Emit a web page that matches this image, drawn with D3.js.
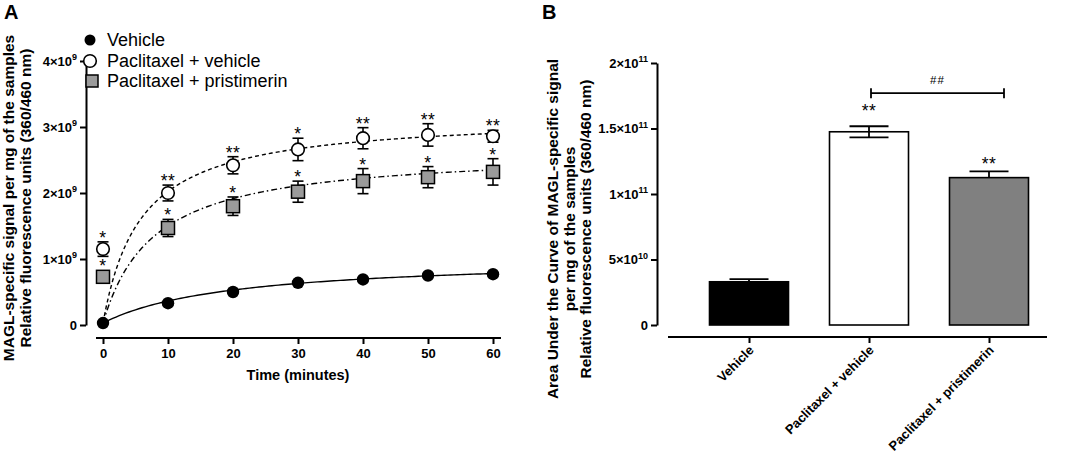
<!DOCTYPE html>
<html>
<head>
<meta charset="utf-8">
<script src="https://cdn.jsdelivr.net/npm/d3@7"></script>
<style>
  body { margin: 0; background: #fff; }
  svg text { font-family: "Liberation Sans", Arial, sans-serif; }
</style>
</head>
<body>
<div id="chart"></div>
<script>
// ---- Data ----

// Panel A: time course (values in units of 10^9)
var times = [0, 10, 20, 30, 40, 50, 60];
var vehicleMean = [0.03, 0.33, 0.50, 0.64, 0.69, 0.75, 0.77];
var vehicleSem = [0.01, 0.02, 0.02, 0.02, 0.02, 0.02, 0.02];
var ptxVehMean = [1.15, 2.00, 2.42, 2.66, 2.83, 2.88, 2.86];
var ptxVehSem = [0.11, 0.12, 0.13, 0.17, 0.16, 0.17, 0.09];
var ptxPriMean = [0.73, 1.47, 1.80, 2.02, 2.18, 2.24, 2.32];
var ptxPriSem = [0.05, 0.13, 0.14, 0.16, 0.19, 0.16, 0.20];
var ptxVehStars = ["*", "**", "**", "*", "**", "**", "**"];
var ptxPriStars = ["*", "*", "*", "*", "*", "*", "*"];

// hyperbolic fit lines (y0 + Bmax * t / (K + t)), one per group
var fitNames = ["vehicle", "ptxVeh", "ptxPri"];
var fitY0 = [0.03, 0.03, 0.03];
var fitBmax = [1.00, 3.15, 2.62];
var fitK = [20, 5.8, 7.8];

var seriesNames = ["Vehicle", "Paclitaxel + vehicle", "Paclitaxel + pristimerin"];
var xTicksA = [0, 10, 20, 30, 40, 50, 60];
var yTicksA = [0, 1, 2, 3, 4];
var yTickLabelsA = ["0", "1\u00d710^9", "2\u00d710^9", "3\u00d710^9", "4\u00d710^9"];

// Panel B: area under the curve (values in units of 10^11)
var groups = ["Vehicle", "Paclitaxel + vehicle", "Paclitaxel + pristimerin"];
var aucMean = [0.33, 1.475, 1.125];
var aucSem = [0.02, 0.042, 0.048];
var aucStars = ["", "**", "**"];
var aucStarLevel = [0, 1.66, 1.25];
var yTicksB = [0, 0.5, 1, 1.5, 2];
var yTickLabelsB = ["0", "5\u00d710^10", "1\u00d710^11", "1.5\u00d710^11", "2\u00d710^11"];
var compareLevel = 1.77; // ## bracket between bars 2 and 3

// ---- Chart setup ----
var width = 1072;
var height = 454;

var svg = d3.select("#chart")
  .append("svg")
  .attr("width", width)
  .attr("height", height);

var fillPri = "#9b9b9b";
var fillPriBar = "#808080";
var titleSize = 15.5;
var tickSize = 13;

// puts "a×10^b" into a text node with a superscript
function sciLabel(sel, label, supSize) {
  var parts = label.split("^");
  sel.text(null);
  sel.append("tspan").text(parts[0]);
  if (parts.length > 1) {
    sel.append("tspan")
      .attr("dy", -5.5)
      .attr("font-size", supSize)
      .text(parts[1]);
  }
}

// ================= Panel A =================
var xA = d3.scaleLinear().domain([0, 60]).range([103, 493]);
var yA = d3.scaleLinear().domain([0, 4]).range([325, 61]);

svg.append("text")
  .attr("x", 4).attr("y", 19)
  .attr("font-size", 20).attr("font-weight", "bold")
  .text("A");

// y axis
var yAxisA = svg.append("g")
  .attr("transform", "translate(86,0)")
  .call(d3.axisLeft(yA).tickValues(yTicksA).tickSize(6).tickSizeOuter(0).tickPadding(3));
yAxisA.select(".domain").attr("stroke-width", 2);
yAxisA.selectAll(".tick line").attr("stroke-width", 2);
yAxisA.selectAll(".tick text")
  .attr("font-size", tickSize).attr("font-weight", "bold")
  .each(function(d, i) { sciLabel(d3.select(this), yTickLabelsA[i], 9); });

// x axis (offset below the plot)
var xAxisA = svg.append("g")
  .attr("transform", "translate(0,338)")
  .call(d3.axisBottom(xA).tickValues(xTicksA).tickSize(6).tickSizeOuter(0).tickPadding(5));
xAxisA.select(".domain").attr("d", "M96,0H501").attr("stroke-width", 2);
xAxisA.selectAll(".tick line").attr("stroke-width", 2);
xAxisA.selectAll(".tick text").attr("font-size", tickSize).attr("font-weight", "bold");

svg.append("text")
  .attr("x", 298).attr("y", 380)
  .attr("text-anchor", "middle")
  .attr("font-size", 14.5).attr("font-weight", "bold")
  .text("Time (minutes)");

// y title
var yTitleA = svg.append("g").attr("transform", "translate(0,198)");
yTitleA.append("text")
  .attr("transform", "translate(14,0)rotate(-90)")
  .attr("text-anchor", "middle")
  .attr("font-size", titleSize).attr("font-weight", "bold")
  .text("MAGL-specific signal per mg of the samples");
yTitleA.append("text")
  .attr("transform", "translate(31,0)rotate(-90)")
  .attr("text-anchor", "middle")
  .attr("font-size", titleSize).attr("font-weight", "bold")
  .text("Relative fluorescence units (360/460 nm)");

// fit curves
var fitDash = [null, "4,3", "6,3,1.5,3"];
var tSamples = d3.range(0, 60.01, 0.5);
var fitLine = d3.line()
  .x(function(d) { return xA(d[0]); })
  .y(function(d) { return yA(d[1]); });

fitNames.forEach(function(name, i) {
  var pts = tSamples.map(function(t) {
    return [t, fitY0[i] + fitBmax[i] * t / (fitK[i] + t)];
  });
  svg.append("path")
    .datum(pts)
    .attr("class", "fit " + name)
    .attr("d", fitLine)
    .attr("fill", "none")
    .attr("stroke", "#000")
    .attr("stroke-width", 1.4)
    .attr("stroke-dasharray", fitDash[i]);
});

// error bars
function drawErrors(means, sems) {
  var g = svg.append("g");
  times.forEach(function(t, i) {
    var x = xA(t), top = yA(means[i] + sems[i]), bot = yA(means[i] - sems[i]);
    g.append("line").attr("x1", x).attr("x2", x).attr("y1", top).attr("y2", bot);
    g.append("line").attr("x1", x - 5.5).attr("x2", x + 5.5).attr("y1", top).attr("y2", top);
    g.append("line").attr("x1", x - 5.5).attr("x2", x + 5.5).attr("y1", bot).attr("y2", bot);
  });
  g.selectAll("line").attr("stroke", "#000").attr("stroke-width", 1.6);
}
drawErrors(vehicleMean, vehicleSem);
drawErrors(ptxVehMean, ptxVehSem);
drawErrors(ptxPriMean, ptxPriSem);

// markers
svg.append("g").selectAll("circle")
  .data(times)
  .enter()
  .append("circle")
  .attr("cx", function(d) { return xA(d); })
  .attr("cy", function(d, i) { return yA(vehicleMean[i]); })
  .attr("r", 6.2)
  .attr("fill", "#000");

svg.append("g").selectAll("circle")
  .data(times)
  .enter()
  .append("circle")
  .attr("cx", function(d) { return xA(d); })
  .attr("cy", function(d, i) { return yA(ptxVehMean[i]); })
  .attr("r", 6.3)
  .attr("fill", "#fff")
  .attr("stroke", "#000")
  .attr("stroke-width", 1.6);

svg.append("g").selectAll("rect")
  .data(times)
  .enter()
  .append("rect")
  .attr("x", function(d) { return xA(d) - 6.5; })
  .attr("y", function(d, i) { return yA(ptxPriMean[i]) - 6.5; })
  .attr("width", 13)
  .attr("height", 13)
  .attr("fill", fillPri)
  .attr("stroke", "#000")
  .attr("stroke-width", 1.5);

// significance stars
function drawStars(means, sems, stars) {
  svg.append("g").selectAll("text")
    .data(times)
    .enter()
    .append("text")
    .attr("x", function(d) { return xA(d); })
    .attr("y", function(d, i) {
      var top = Math.min(yA(means[i] + sems[i]), yA(means[i]) - 6.5);
      return top + 2;
    })
    .attr("text-anchor", "middle")
    .attr("font-size", 17.5)
    .attr("letter-spacing", 0.5)
    .text(function(d, i) { return stars[i]; });
}
drawStars(ptxVehMean, ptxVehSem, ptxVehStars);
drawStars(ptxPriMean, ptxPriSem, ptxPriStars);

// legend
var legendRows = [40, 61, 81];
var legend = svg.append("g");
legend.append("circle").attr("cx", 90).attr("cy", legendRows[0]).attr("r", 5.5).attr("fill", "#000");
legend.append("circle").attr("cx", 90).attr("cy", legendRows[1]).attr("r", 6.3)
  .attr("fill", "#fff").attr("stroke", "#000").attr("stroke-width", 1.6);
legend.append("rect").attr("x", 86).attr("y", legendRows[2] - 6).attr("width", 12).attr("height", 12)
  .attr("fill", fillPri).attr("stroke", "#000").attr("stroke-width", 1.5);
legend.selectAll("text")
  .data(seriesNames)
  .enter()
  .append("text")
  .attr("x", 107)
  .attr("y", function(d, i) { return legendRows[i] + 6; })
  .attr("font-size", 18)
  .text(function(d) { return d; });

// ================= Panel B =================
var xB = d3.scalePoint().domain(groups).range([749, 989]);
var yB = d3.scaleLinear().domain([0, 2]).range([325, 63]);
var barWidth = 79;

svg.append("text")
  .attr("x", 542).attr("y", 19)
  .attr("font-size", 20).attr("font-weight", "bold")
  .text("B");

var yAxisB = svg.append("g")
  .attr("transform", "translate(657,0)")
  .call(d3.axisLeft(yB).tickValues(yTicksB).tickSize(6).tickSizeOuter(0).tickPadding(3));
yAxisB.select(".domain").attr("stroke-width", 2);
yAxisB.selectAll(".tick line").attr("stroke-width", 2);
yAxisB.selectAll(".tick text")
  .attr("font-size", tickSize).attr("font-weight", "bold")
  .each(function(d, i) { sciLabel(d3.select(this), yTickLabelsB[i], 9); });

var xAxisB = svg.append("g")
  .attr("transform", "translate(0,337)")
  .call(d3.axisBottom(xB).tickSize(6).tickSizeOuter(0));
xAxisB.select(".domain").attr("d", "M668,0H1047").attr("stroke-width", 2);
xAxisB.selectAll(".tick line").attr("stroke-width", 2);
xAxisB.selectAll(".tick text")
  .attr("font-size", 13).attr("font-weight", "bold")
  .attr("text-anchor", "end")
  .attr("dy", null)
  .attr("y", 0)
  .attr("transform", "translate(5,14)rotate(-45)");

// y title (three lines)
var yTitleB = svg.append("g").attr("transform", "translate(0,229)");
var titleLinesB = ["Area Under the Curve of MAGL-specific signal", "per mg of the samples", "Relative fluorescence units (360/460 nm)"];
yTitleB.selectAll("text")
  .data(titleLinesB)
  .enter()
  .append("text")
  .attr("transform", function(d, i) { return "translate(" + (558 + i * 16.5) + ",0)rotate(-90)"; })
  .attr("text-anchor", "middle")
  .attr("font-size", titleSize).attr("font-weight", "bold")
  .text(function(d) { return d; });

// error bars behind the bars
var errB = svg.append("g");
groups.forEach(function(g, i) {
  var x = xB(g), top = yB(aucMean[i] + aucSem[i]), bot = yB(aucMean[i] - aucSem[i]);
  errB.append("line").attr("x1", x).attr("x2", x).attr("y1", top).attr("y2", bot);
  errB.append("line").attr("x1", x - 19.5).attr("x2", x + 19.5).attr("y1", top).attr("y2", top);
  errB.append("line").attr("x1", x - 19.5).attr("x2", x + 19.5).attr("y1", bot).attr("y2", bot);
});
errB.selectAll("line").attr("stroke", "#000").attr("stroke-width", 1.8);

var barFill = ["#000", "none", fillPriBar];
svg.append("g").selectAll("rect")
  .data(groups)
  .enter()
  .append("rect")
  .attr("x", function(d) { return xB(d) - barWidth / 2; })
  .attr("y", function(d, i) { return yB(aucMean[i]); })
  .attr("width", barWidth)
  .attr("height", function(d, i) { return yB(0) - yB(aucMean[i]); })
  .attr("fill", function(d, i) { return barFill[i]; })
  .attr("stroke", "#000")
  .attr("stroke-width", 1.6);

// stars above bars
svg.append("g").selectAll("text")
  .data(groups)
  .enter()
  .append("text")
  .attr("x", function(d) { return xB(d); })
  .attr("y", function(d, i) { return yB(aucStarLevel[i]) + 9; })
  .attr("text-anchor", "middle")
  .attr("font-size", 17.5)
  .attr("letter-spacing", 0.5)
  .text(function(d, i) { return aucStars[i]; });

// ## comparison bracket
var cmpY = yB(compareLevel);
var x1 = xB(groups[1]) + 2, x2 = xB(groups[2]) + 15;
var cmp = svg.append("g").attr("stroke", "#000").attr("stroke-width", 1.8);
cmp.append("line").attr("x1", x1).attr("x2", x2).attr("y1", cmpY).attr("y2", cmpY);
cmp.append("line").attr("x1", x1).attr("x2", x1).attr("y1", cmpY - 5).attr("y2", cmpY + 5);
cmp.append("line").attr("x1", x2).attr("x2", x2).attr("y1", cmpY - 5).attr("y2", cmpY + 5);
svg.append("text")
  .attr("x", (x1 + x2) / 2).attr("y", cmpY - 9)
  .attr("text-anchor", "middle")
  .attr("font-size", 11.5)
  .attr("letter-spacing", 1)
  .text("##");
</script>
</body>
</html>
